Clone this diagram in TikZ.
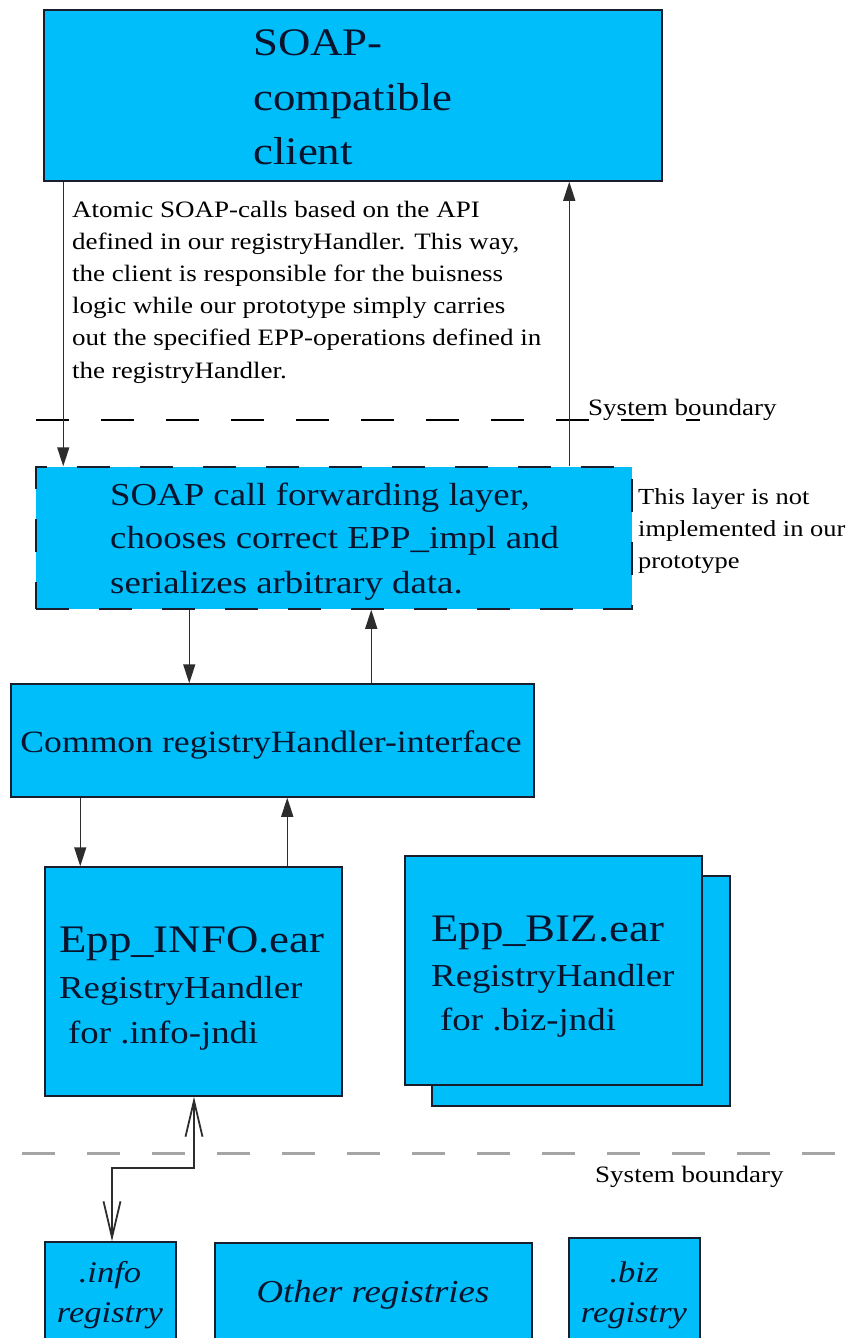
\documentclass[tikz,border=0pt]{standalone}
\usepackage{fontspec}
\setmainfont{Liberation Serif}[FakeStretch=1.15]
\usetikzlibrary{arrows.meta}
\definecolor{boxfill}{RGB}{0,190,250}
\definecolor{edge}{RGB}{25,30,45}
\definecolor{ink}{RGB}{8,20,45}
\definecolor{wire}{RGB}{45,45,45}
\definecolor{sbgray}{RGB}{165,165,165}
\newcommand\fs[1]{\fontsize{#1}{#1}\selectfont}
\begin{document}
\begin{tikzpicture}[x=1pt,y=-1pt,
  box/.style={draw=edge, fill=boxfill, line width=1.5pt, inner sep=0pt},
  dashbox/.style={box, dash pattern=on 33pt off 30pt},
  arr/.style={draw=wire, line width=1.5pt, -{Triangle[length=19pt,width=12pt]}},
  barb/.style={draw=wire, line width=1.8pt, {Straight Barb[length=36pt,width=17pt]}-{Straight Barb[length=36pt,width=17pt]}},
  sbline/.style={draw=black, line width=2pt, dash pattern=on 33pt off 32pt},
  txt/.style={anchor=base west, inner sep=0pt, text=ink},
  ctxt/.style={anchor=base, inner sep=0pt, text=ink},
  note/.style={anchor=base west, inner sep=0pt, text=black}]
\useasboundingbox (0,0) rectangle (856,1338);
\clip (0,0) rectangle (856,1338);

% boxes
\node[box, minimum width=618pt, minimum height=171pt] (client) at (353,95.5) {};
\node[dashbox, minimum width=596pt, minimum height=142pt] (layer) at (334,538) {};
\node[box, minimum width=523pt, minimum height=113pt] (common) at (272.5,740.5) {};
\node[box, minimum width=297pt, minimum height=229pt] (info) at (193.5,981.5) {};
\node[box, minimum width=298pt, minimum height=230pt] (bizback) at (581,991) {};
\node[box, minimum width=297pt, minimum height=229pt] (biz) at (553.5,970.5) {};
\node[box, minimum width=131pt, minimum height=110pt] (infreg) at (110.5,1297) {};
\node[box, minimum width=317pt, minimum height=110pt] (other) at (373.5,1298) {};
\node[box, minimum width=131pt, minimum height=115pt] (bizreg) at (634.5,1295.5) {};

% system boundaries
\coordinate (sb1a) at (36,420); \coordinate (sb1b) at (700,420);
\draw[sbline] (sb1a) -- (sb1b);
\coordinate (sb2a) at (22,1153); \coordinate (sb2b) at (860,1153);
\draw[sbline, draw=sbgray, line width=3pt] (sb2a) -- (sb2b);

% texts
\node[txt, font=\fs{39}] (c1) at (253,56) {SOAP-};
\node[txt, font=\fs{39}] (c2) at (253,110) {compatible};
\node[txt, font=\fs{39}] (c3) at (253,164) {client};

\node[note, font=\fs{23.5}] (a1) at (72,217) {Atomic SOAP-calls based on the API};
\node[note, font=\fs{23.5}] (a2) at (72,249) {defined in our registryHandler. This way,};
\node[note, font=\fs{23.5}] (a3) at (72,281) {the client is responsible for the buisness};
\node[note, font=\fs{23.5}] (a4) at (72,313) {logic while our prototype simply carries};
\node[note, font=\fs{23.5}] (a5) at (72,345) {out the specified EPP-operations defined in};
\node[note, font=\fs{23.5}] (a6) at (72,378) {the registryHandler.};

\node[note, font=\fs{23.5}] (sbt1) at (588,415) {System boundary};

\node[txt, font=\fs{32}] (l1) at (110,505) {SOAP call forwarding layer,};
\node[txt, font=\fs{32}] (l2) at (110,548) {chooses correct EPP\_impl and};
\node[txt, font=\fs{32}] (l3) at (110,593) {serializes arbitrary data.};

\node[note, font=\fs{23}] (n1) at (638,504) {This layer is not};
\node[note, font=\fs{23}] (n2) at (638,536) {implemented in our};
\node[note, font=\fs{23}] (n3) at (638,568) {prototype};

\node[ctxt, font=\fs{31}] (cm) at (271,752) {Common registryHandler-interface};

\node[txt, font=\fs{39}] (i1) at (59,952) {Epp\_INFO.ear};
\node[txt, font=\fs{32}] (i2) at (59,998) {RegistryHandler};
\node[txt, font=\fs{32}] (i3) at (68,1043) {for .info-jndi};

\node[txt, font=\fs{39}] (b1) at (431,941) {Epp\_BIZ.ear};
\node[txt, font=\fs{32}] (b2) at (431,986) {RegistryHandler};
\node[txt, font=\fs{32}] (b3) at (440,1030) {for .biz-jndi};

\node[note, font=\fs{23.5}] (sbt2) at (595,1182) {System boundary};

\node[ctxt, font=\fs{30}\itshape] (r1) at (110,1282) {.info};
\node[ctxt, font=\fs{30}\itshape] (r2) at (110,1322) {registry};
\node[ctxt, font=\fs{32}\itshape] (r3) at (373,1302) {Other registries};
\node[ctxt, font=\fs{30}\itshape] (r4) at (634,1282) {.biz};
\node[ctxt, font=\fs{30}\itshape] (r5) at (634,1322) {registry};

% connectors
\draw[arr] ([xshift=20pt]client.south west) -- ([xshift=28pt]layer.north west);
\draw[arr] ([xshift=534pt]layer.north west) -- ([xshift=526pt]client.south west);
\draw[arr] ([xshift=154pt]layer.south west) -- ([xshift=179pt]common.north west);
\draw[arr] ([xshift=361pt]common.north west) -- ([xshift=336pt]layer.south west);
\draw[arr] ([xshift=70pt]common.south west) -- ([xshift=36pt]info.north west);
\draw[arr] ([xshift=243pt]info.north west) -- ([xshift=277pt]common.south west);
\coordinate (bend) at (194,1168);
\draw[barb] ([xshift=0.5pt]info.south) -- (bend) -| ([xshift=1.5pt]infreg.north);
\end{tikzpicture}
\end{document}
